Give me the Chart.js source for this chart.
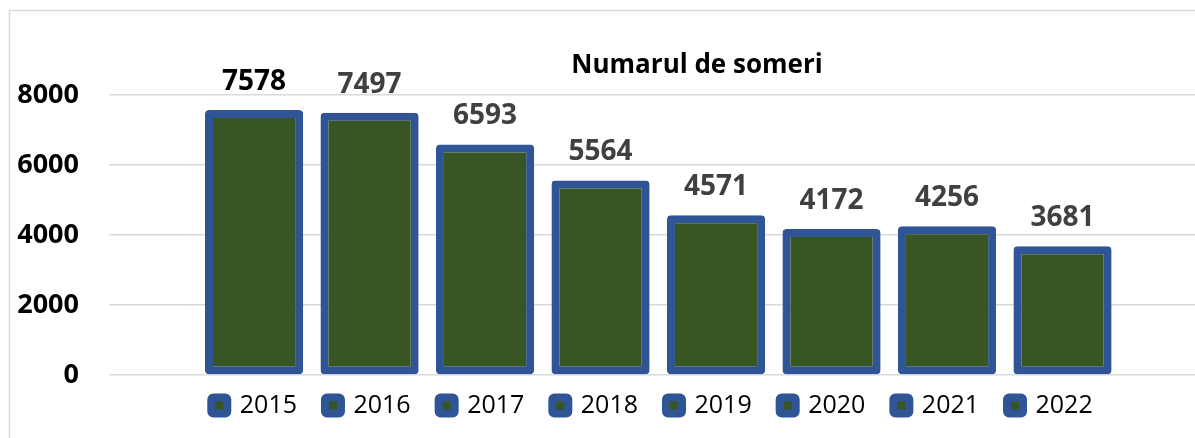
<!DOCTYPE html>
<html>
<head>
<meta charset="utf-8">
<script src="https://cdn.jsdelivr.net/npm/chart.js@4.4.1/dist/chart.umd.min.js"></script>
<style>
  html, body { margin: 0; padding: 0; background: #fff; }
  #wrap { width: 1195px; height: 438px; position: relative; }
</style>
</head>
<body>
<div id="wrap"><canvas id="bar-chart"></canvas></div>
<script>
    // date grafic
    const ani = ['2015', '2016', '2017', '2018', '2019', '2020', '2021', '2022'];
    const someri = [7578, 7497, 6593, 5564, 4571, 4172, 4256, 3681];
    const yMin = 0;
    const yMax = 8000;
    const yStep = 2000;

    const verde = '#375623';
    const albastru = '#2F5597';

    // rama gri a graficului
    const rama = {
        id: 'rama',
        beforeDraw(chart) {
            const ctx = chart.ctx;
            ctx.save();
            ctx.strokeStyle = '#d9d9d9';
            ctx.lineWidth = 1.5;
            ctx.beginPath();
            ctx.moveTo(9.5, chart.height);
            ctx.lineTo(9.5, 10.5);
            ctx.lineTo(chart.width, 10.5);
            ctx.stroke();
            ctx.restore();
        }
    };

    // pozitii titlu / legenda ca in Excel
    const ajustari = {
        id: 'ajustari',
        afterLayout(chart) {
            const t = chart.titleBlock;
            if (t) { t.left += 92; t.right += 92; }
            const l = chart.legend;
            if (l) { l.top -= 10; l.bottom -= 10; }
        }
    };

    // etichete valori deasupra barelor
    const etichete = {
        id: 'etichete',
        afterDatasetsDraw(chart) {
            const ctx = chart.ctx;
            const meta = chart.getDatasetMeta(0);
            ctx.save();
            ctx.font = 'bold 28px "Open Sans"';
            ctx.textAlign = 'center';
            ctx.textBaseline = 'alphabetic';
            meta.data.forEach((bar, i) => {
                ctx.fillStyle = i === 0 ? '#000000' : '#404040';
                ctx.fillText(someri[i], bar.x, bar.y - 20);
            });
            ctx.restore();
        }
    };

    let barChart = new Chart(document.getElementById('bar-chart'), {
        type: 'bar',
        data: {
            labels: ani,
            datasets: [
                {
                    label: 'Numarul de someri',
                    data: someri.map((v, i) => ({ x: i, y: v })),
                    backgroundColor: verde,
                    borderColor: albastru,
                    borderWidth: 8,
                    borderRadius: 4,
                    borderSkipped: false,
                    categoryPercentage: 1,
                    barPercentage: 0.85
                }
            ]
        },
        options: {
            responsive: true,
            maintainAspectRatio: false,
            animation: false,
            layout: {
                padding: { left: 15, right: 0, top: 0, bottom: 0 }
            },
            scales: {
                x: {
                    type: 'linear',
                    display: false,
                    min: -1.256,
                    max: 8.147,
                    offset: false,
                    grid: { display: false }
                },
                y: {
                    min: yMin,
                    max: yMax,
                    border: { display: false },
                    afterFit: (scale) => { scale.width = 94; },
                    grid: {
                        color: '#d9d9d9',
                        lineWidth: 1.5,
                        drawTicks: false
                    },
                    ticks: {
                        stepSize: yStep,
                        padding: 30,
                        color: '#000000',
                        font: { family: 'Open Sans', size: 27, weight: 'bold' },
                        callback: (v) => String(v)
                    }
                }
            },
            plugins: {
                title: {
                    display: true,
                    text: 'Numarul de someri',
                    color: '#000000',
                    font: { family: 'Open Sans', size: 26, weight: 'bold' },
                    padding: { top: 50, bottom: 14 }
                },
                legend: {
                    display: true,
                    position: 'bottom',
                    fullSize: false,
                    labels: {
                        boxWidth: 16,
                        boxHeight: 16,
                        padding: 28,
                        color: '#595959',
                        useBorderRadius: true,
                        borderRadius: 2,
                        font: { family: 'Open Sans', size: 25 },
                        generateLabels: () => ani.map((an, i) => ({
                            text: an,
                            fillStyle: verde,
                            strokeStyle: albastru,
                            lineWidth: 8,
                            borderRadius: 2,
                            hidden: false,
                            index: i,
                            datasetIndex: 0
                        }))
                    }
                },
                tooltip: { enabled: false }
            }
        },
        plugins: [rama, ajustari, etichete]
    });
</script>
</body>
</html>
